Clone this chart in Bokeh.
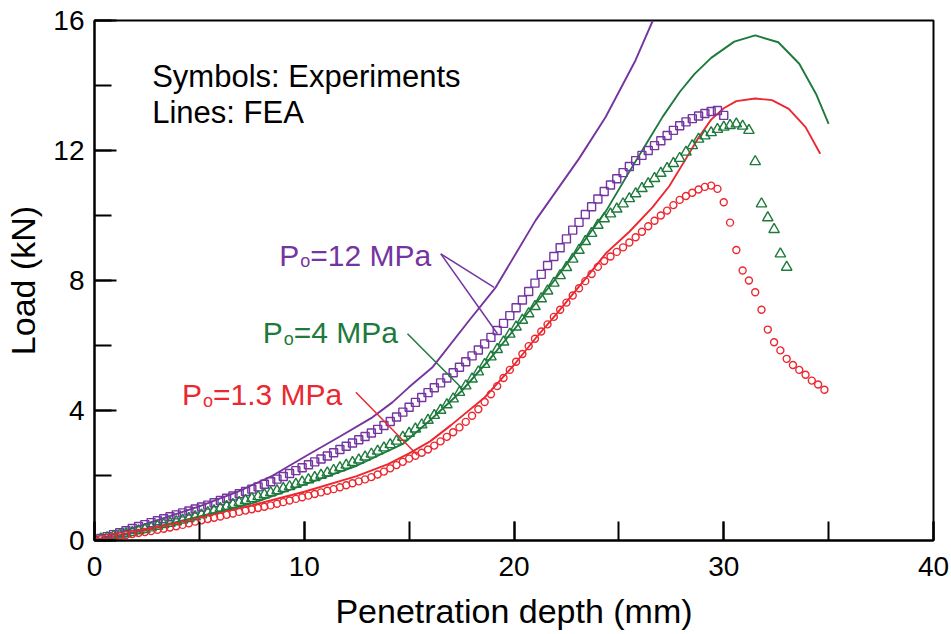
from bokeh.plotting import figure
from bokeh.models import Range1d, SingleIntervalTicker
from bokeh.core.properties import value
from bokeh.embed import file_html
from bokeh.resources import INLINE

FONT = "Liberation Sans"
PURPLE = "#74359F"
GREEN = "#1E7A3C"
RED = "#EB2830"

# ---------------- data ----------------
depth_mm = [0.0, 0.3, 0.6, 0.9, 1.2, 1.5, 1.8, 2.1, 2.4, 2.7,
            3.0, 3.3, 3.6, 3.9, 4.2, 4.5, 4.8, 5.1, 5.4, 5.7,
            6.0, 6.3, 6.6, 6.9, 7.2, 7.5, 7.8, 8.1, 8.4, 8.7,
            9.0, 9.3, 9.6, 9.9, 10.2, 10.5, 10.8, 11.1, 11.4, 11.7,
            12.0, 12.3, 12.6, 12.9, 13.2, 13.5, 13.8, 14.1, 14.4, 14.7,
            15.0, 15.3, 15.6, 15.9, 16.2, 16.5, 16.8, 17.1, 17.4, 17.7,
            18.0, 18.3, 18.6, 18.9, 19.2, 19.5, 19.8, 20.1, 20.4, 20.7,
            21.0, 21.3, 21.6, 21.9, 22.2, 22.5, 22.8, 23.1, 23.4, 23.7,
            24.0, 24.3, 24.6, 24.9, 25.2, 25.5, 25.8, 26.1, 26.4, 26.7,
            27.0, 27.3, 27.6, 27.9, 28.2, 28.5, 28.8, 29.1, 29.4, 29.7,
            30.0, 30.3, 30.6, 30.9, 31.2, 31.5, 31.8, 32.1, 32.4, 32.7,
            33.0, 33.3, 33.6, 33.9, 34.2, 34.5, 34.8]

# Experiments (symbols)
exp_1_3 = [0.00, 0.04, 0.08, 0.11, 0.14, 0.17, 0.20, 0.23, 0.26, 0.29,
           0.33, 0.36, 0.40, 0.44, 0.48, 0.53, 0.58, 0.62, 0.66, 0.70,
           0.74, 0.79, 0.83, 0.88, 0.92, 0.96, 1.00, 1.04, 1.08, 1.13,
           1.18, 1.23, 1.28, 1.33, 1.38, 1.43, 1.48, 1.53, 1.58, 1.64,
           1.70, 1.76, 1.82, 1.88, 1.95, 2.03, 2.12, 2.22, 2.32, 2.42,
           2.52, 2.61, 2.70, 2.80, 2.92, 3.05, 3.19, 3.33, 3.48, 3.65,
           3.84, 4.04, 4.26, 4.50, 4.75, 5.00, 5.25, 5.50, 5.74, 5.98,
           6.21, 6.43, 6.65, 6.88, 7.10, 7.32, 7.54, 7.76, 7.98, 8.20,
           8.42, 8.60, 8.74, 8.88, 9.02, 9.17, 9.33, 9.50, 9.67, 9.84,
           10.00, 10.15, 10.32, 10.48, 10.60, 10.70, 10.80, 10.88, 10.92, 10.82,
           10.41, 9.78, 8.94, 8.31, 8.00, 7.64, 7.10, 6.49, 6.10, 5.85,
           5.59, 5.40, 5.25, 5.10, 4.92, 4.80, 4.64]

exp_4 = [0.00, 0.05, 0.09, 0.13, 0.17, 0.21, 0.25, 0.30, 0.34, 0.39,
         0.44, 0.49, 0.53, 0.58, 0.63, 0.68, 0.73, 0.79, 0.86, 0.92,
         0.99, 1.05, 1.11, 1.17, 1.23, 1.29, 1.35, 1.41, 1.47, 1.53,
         1.60, 1.66, 1.73, 1.80, 1.87, 1.94, 2.01, 2.08, 2.16, 2.24,
         2.32, 2.40, 2.48, 2.57, 2.66, 2.75, 2.85, 2.95, 3.06, 3.18,
         3.30, 3.43, 3.56, 3.70, 3.85, 4.01, 4.18, 4.36, 4.56, 4.76,
         4.97, 5.19, 5.42, 5.65, 5.88, 6.11, 6.35, 6.57, 6.78, 6.98,
         7.20, 7.44, 7.68, 7.92, 8.15, 8.40, 8.66, 8.93, 9.20, 9.45,
         9.70, 9.90, 10.05, 10.20, 10.36, 10.52, 10.67, 10.83, 10.98, 11.14,
         11.30, 11.45, 11.60, 11.76, 11.95, 12.15, 12.35, 12.45, 12.55, 12.65,
         12.72, 12.77, 12.82, 12.75, 12.62, 11.66, 10.36, 9.93, 9.57, 8.82,
         8.41]

exp_12 = [0.00, 0.06, 0.12, 0.18, 0.24, 0.30, 0.37, 0.43, 0.49, 0.55,
          0.61, 0.67, 0.73, 0.79, 0.85, 0.91, 0.97, 1.03, 1.09, 1.16,
          1.23, 1.30, 1.37, 1.44, 1.51, 1.58, 1.65, 1.73, 1.81, 1.89,
          1.97, 2.06, 2.15, 2.24, 2.33, 2.42, 2.51, 2.60, 2.70, 2.80,
          2.90, 3.00, 3.10, 3.20, 3.31, 3.42, 3.54, 3.66, 3.80, 3.95,
          4.10, 4.25, 4.40, 4.55, 4.70, 4.85, 5.00, 5.16, 5.33, 5.50,
          5.68, 5.86, 6.05, 6.25, 6.46, 6.68, 6.92, 7.16, 7.40, 7.66,
          7.92, 8.19, 8.46, 8.74, 9.01, 9.28, 9.55, 9.79, 10.03, 10.27,
          10.51, 10.74, 10.94, 11.13, 11.32, 11.51, 11.69, 11.85, 12.00, 12.15,
          12.30, 12.46, 12.62, 12.76, 12.88, 12.98, 13.06, 13.14, 13.20, 13.23,
          13.08]

# FEA (lines)
fea_1_3_x = [0, 2.5, 5, 7.5, 10, 12.5, 14.0, 15.0, 16.0, 17.0, 18.6, 20.0, 21.0, 22.0,
             23.4, 24.4, 25.5, 26.6, 27.4, 28.2, 28.8, 29.4, 30.0, 30.6, 31.5, 32.3,
             33.1, 33.9, 34.6]
fea_1_3_y = [0, 0.32, 0.72, 1.08, 1.50, 1.98, 2.35, 2.68, 3.05, 3.55, 4.40, 5.40, 6.20, 6.95,
             8.05, 8.85, 9.50, 10.25, 10.90, 11.75, 12.40, 12.95, 13.30, 13.52, 13.60, 13.55,
             13.28, 12.72, 11.90]

fea_4_x = [0, 2.5, 5, 7.5, 10, 12.5, 14.7, 16.0, 17.5, 19.0, 20.4, 21.8, 23.1, 24.4,
           25.5, 26.3, 27.1, 27.9, 28.6, 29.4, 30.5, 31.5, 32.6, 33.6, 34.4, 35.0]
fea_4_y = [0, 0.35, 0.74, 1.14, 1.72, 2.30, 2.97, 3.70, 4.60, 5.70, 6.80, 7.90, 9.00, 10.15,
           11.35, 12.20, 13.05, 13.80, 14.35, 14.85, 15.35, 15.54, 15.33, 14.67, 13.74, 12.82]

fea_12_x = [0, 2.5, 5, 6.9, 8.5, 10.08, 11.7, 13.25, 14.2, 15.0, 16.1, 17.86, 19.13,
            21.03, 23.1, 24.37, 25.79, 26.62]
fea_12_y = [0, 0.52, 1.05, 1.52, 2.00, 2.60, 3.20, 3.79, 4.25, 4.72, 5.32, 6.77, 7.79,
            9.85, 11.75, 13.03, 14.77, 16.0]

x_ticks_interval = 10
y_ticks_interval = 4

# ---------------- figure ----------------
p = figure(frame_width=839, frame_height=520,
           x_range=Range1d(0, 40), y_range=Range1d(0, 16),
           output_backend="svg", toolbar_location=None,
           min_border_left=94, min_border_right=18,
           min_border_top=20, min_border_bottom=94)
p.grid.visible = False
p.background_fill_color = "white"
p.border_fill_color = "white"
p.outline_line_color = "black"
p.outline_line_width = 2
p.outline_line_alpha = 1

p.xaxis.ticker = SingleIntervalTicker(interval=x_ticks_interval, num_minor_ticks=2)
p.yaxis.ticker = SingleIntervalTicker(interval=y_ticks_interval, num_minor_ticks=2)

for ax in (p.xaxis[0], p.yaxis[0]):
    ax.axis_line_width = 2
    ax.axis_line_color = "black"
    ax.major_tick_line_width = 2
    ax.minor_tick_line_width = 2
    ax.major_tick_out = 0
    ax.minor_tick_out = 0
    ax.major_label_text_font = FONT
    ax.major_label_text_font_size = "28px"
    ax.major_label_text_color = "black"
    ax.axis_label_text_font = FONT
    ax.axis_label_text_font_size = "34px"
    ax.axis_label_text_font_style = "normal"
    ax.axis_label_text_color = "black"

p.xaxis.major_tick_in = 19
p.xaxis.minor_tick_in = 19
p.yaxis.major_tick_in = 22
p.yaxis.minor_tick_in = 17
p.xaxis.major_label_standoff = 16
p.yaxis.major_label_standoff = 10
p.xaxis.axis_label = "Penetration depth (mm)"
p.yaxis.axis_label = "Load (kN)"
p.xaxis.axis_label_standoff = 13
p.yaxis.axis_label_standoff = 8

# FEA lines
p.line(fea_12_x, fea_12_y, line_color=PURPLE, line_width=1.9)
p.line(fea_4_x, fea_4_y, line_color=GREEN, line_width=1.9)
p.line(fea_1_3_x, fea_1_3_y, line_color=RED, line_width=1.9)

# Experiments
p.scatter(depth_mm[:len(exp_12)], exp_12, marker="square", size=8,
          fill_color=None, line_color=PURPLE, line_width=1.4)
p.scatter(depth_mm[:len(exp_4)], exp_4, marker="triangle", size=10.5,
          fill_color=None, line_color=GREEN, line_width=1.4)
p.scatter(depth_mm[:len(exp_1_3)], exp_1_3, marker="circle", size=7,
          fill_color=None, line_color=RED, line_width=1.4)

# ---------------- annotations ----------------
p.text(x=[2.75, 2.75], y=[14.28, 13.18], text=["Symbols: Experiments", "Lines: FEA"],
       text_font=value(FONT), text_font_size="31px", text_color="black",
       text_baseline="alphabetic", text_align="left")

labels = [
    # x, y (baseline), rest of text, colour
    (8.81, 8.77, "=12 MPa", PURPLE),
    (8.02, 6.39, "=4 MPa", GREEN),
    (4.17, 4.48, "=1.3 MPa", RED),
]
for lx, ly, rest, col in labels:
    p.text(x=[lx], y=[ly], text=["P"], text_font=value(FONT), text_font_size="30px",
           text_color=col, text_baseline="alphabetic", text_align="left")
    p.text(x=[lx], y=[ly], text=["o"], x_offset=21, y_offset=6,
           text_font=value(FONT), text_font_size="18px",
           text_color=col, text_baseline="alphabetic", text_align="left")
    p.text(x=[lx], y=[ly], text=[rest], x_offset=31, text_font=value(FONT),
           text_font_size="30px", text_color=col, text_baseline="alphabetic",
           text_align="left")

leaders = [
    ((16.51, 8.82), (19.05, 7.79), PURPLE),
    ((16.51, 8.82), (19.21, 6.36), PURPLE),
    ((14.92, 6.36), (17.54, 4.67), GREEN),
    ((12.46, 4.56), (15.40, 2.62), RED),
]
for (x0, y0), (x1, y1), col in leaders:
    p.segment(x0=[x0], y0=[y0], x1=[x1], y1=[y1], line_color=col, line_width=1.5)

open("out.html", "w").write(file_html(p, INLINE))
